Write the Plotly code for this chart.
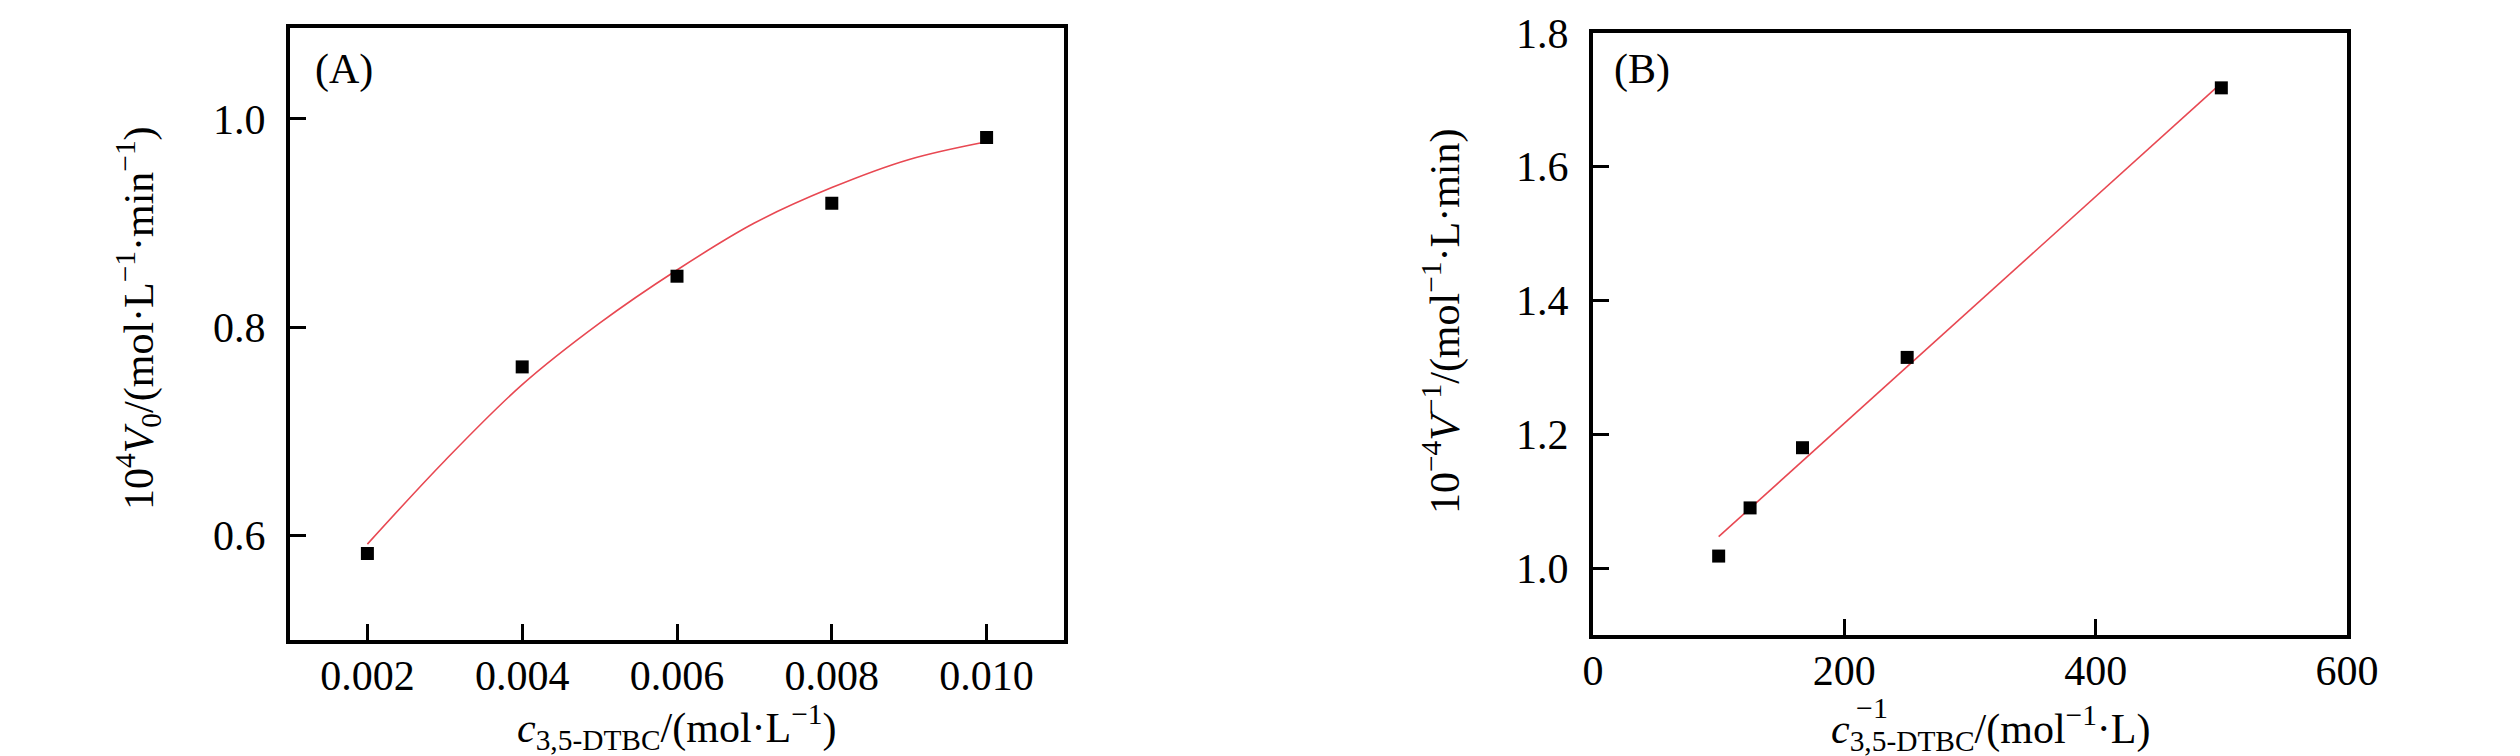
import plotly.graph_objects as go

# Panel A data
conc = [0.002, 0.004, 0.006, 0.008, 0.010]
v0 = [0.583, 0.762, 0.849, 0.919, 0.982]
fit_a_x = [0.002, 0.003, 0.004, 0.005, 0.006, 0.007, 0.008, 0.009, 0.010]
fit_a_y = [0.592, 0.672, 0.745, 0.804, 0.855, 0.900, 0.934, 0.961, 0.978]

# Panel B data (Lineweaver-Burk)
inv_conc = [100, 125, 166.7, 250, 500]
inv_v = [1.018, 1.090, 1.180, 1.315, 1.718]
fit_b_x = [100, 500]
fit_b_y = [1.047, 1.725]

# tick values
a_xticks = [0.002, 0.004, 0.006, 0.008, 0.010]
a_yticks = [0.6, 0.8, 1.0]
b_xticks = [0, 200, 400, 600]
b_yticks = [1.0, 1.2, 1.4, 1.6, 1.8]

FONT = "Liberation Serif"
W, H = 2520, 756
RED = "rgb(232,72,82)"

fig = go.Figure()

fig.add_trace(go.Scatter(x=fit_a_x, y=fit_a_y, mode="lines", line=dict(color=RED, width=1.6, shape="spline"),
                         xaxis="x", yaxis="y", showlegend=False, hoverinfo="skip"))
fig.add_trace(go.Scatter(x=conc, y=v0, mode="markers", marker=dict(symbol="square", size=13, color="black"),
                         xaxis="x", yaxis="y", showlegend=False))
fig.add_trace(go.Scatter(x=fit_b_x, y=fit_b_y, mode="lines", line=dict(color=RED, width=1.6),
                         xaxis="x2", yaxis="y2", showlegend=False, hoverinfo="skip"))
fig.add_trace(go.Scatter(x=inv_conc, y=inv_v, mode="markers", marker=dict(symbol="square", size=13, color="black"),
                         xaxis="x2", yaxis="y2", showlegend=False))

def px_x(p):
    return p / W

def px_y(p):
    return 1 - p / H

axis_common = dict(showline=True, linecolor="black", linewidth=4, mirror=True, ticks="inside",
                   ticklen=16, tickwidth=3, tickcolor="black", showgrid=False, zeroline=False,
                   automargin=False, tickfont=dict(family=FONT, size=42, color="black"))

fig.update_layout(
    width=W, height=H, autosize=False,
    margin=dict(l=0, r=0, t=0, b=0, pad=0),
    paper_bgcolor="white", plot_bgcolor="white",
    font=dict(family=FONT, color="black"),
    xaxis=dict(domain=[px_x(290), px_x(1064)], range=[0.001, 0.011], anchor="y",
               tickvals=a_xticks, tickformat=".3f", ticklabelstandoff=-4, **axis_common),
    yaxis=dict(domain=[px_y(640), px_y(27.5)], range=[0.5, 1.0876], anchor="x",
               tickvals=a_yticks, tickformat=".1f", ticklabelstandoff=12, **axis_common),
    xaxis2=dict(domain=[px_x(1593), px_x(2347)], range=[0, 600], anchor="y2",
                tickvals=b_xticks, tickformat="d", ticklabelstandoff=-4, **axis_common),
    yaxis2=dict(domain=[px_y(635), px_y(33)], range=[0.9, 1.8], anchor="x2",
                tickvals=b_yticks, tickformat=".1f", ticklabelstandoff=12, **axis_common),
)

TF = dict(family=FONT, size=42, color="black")
ann = [
    dict(text="(A)", x=px_x(344), y=px_y(70), font=dict(family=FONT, size=42, color="black")),
    dict(text="(B)", x=px_x(1642), y=px_y(70), font=dict(family=FONT, size=42, color="black")),
    dict(text="<i>c</i><sub>3,5-DTBC</sub>/(mol·L<sup>−1</sup>)", x=px_x(677), y=px_y(727), font=TF),
    dict(text="10<sup>4</sup><i>V</i><sub>0</sub>/(mol·L<sup>−1</sup>·min<sup>−1</sup>)", x=px_x(138), y=px_y(318),
         font=TF, textangle=-90),
    dict(text="<i>c</i><sub>3,5-DTBC</sub>/(mol<sup>−1</sup>·L)", x=px_x(1991), y=px_y(728), font=TF),
    dict(text="−1", x=px_x(1872), y=px_y(707), font=dict(family=FONT, size=30, color="black")),
    dict(text="10<sup>−4</sup><i>V</i><sup>−1</sup>/(mol<sup>−1</sup>·L·min)", x=px_x(1442), y=px_y(322),
         font=TF, textangle=-90),
]
for a in ann:
    a.update(xref="paper", yref="paper", showarrow=False, xanchor="center", yanchor="middle")
fig.update_layout(annotations=ann)

fig.write_html(
    "out.html",
    config={"displayModeBar": False},
    post_script="document.body.style.margin='0';document.body.style.padding='0';"
                "document.documentElement.style.overflow='hidden';",
)
